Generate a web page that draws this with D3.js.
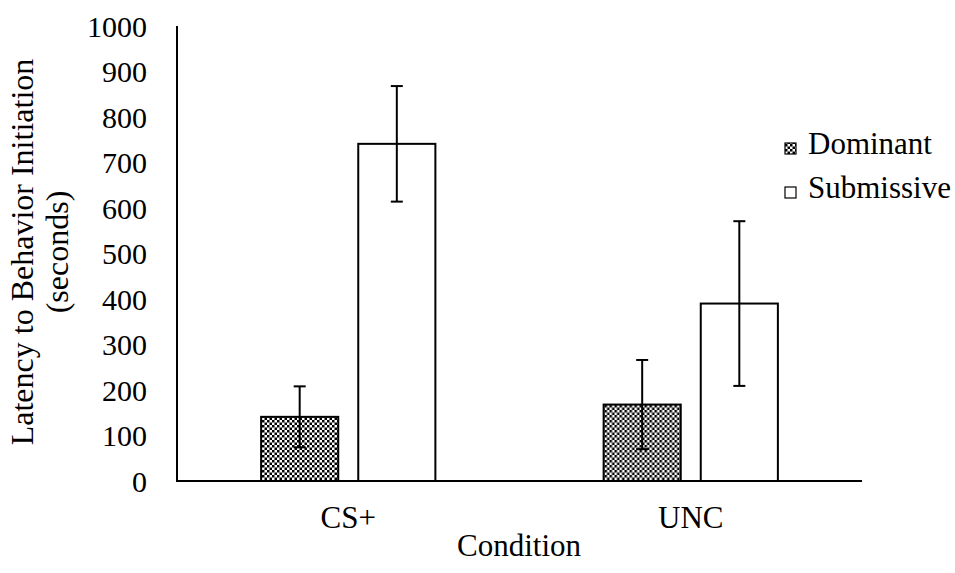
<!DOCTYPE html>
<html>
<head>
<meta charset="utf-8">
<script src="https://cdn.jsdelivr.net/npm/d3@7"></script>
<style>
	body { margin: 0; background: #fff; }
	text { font-family: "Liberation Serif", "Times New Roman", serif; fill: #000; }
</style>
</head>
<body>
<svg id="chart" width="955" height="573"></svg>
<script>

var categories = ['CS+', 'UNC']
var series = ['Dominant', 'Submissive']
var means = {
	'Dominant': [141, 168],
	'Submissive': [741, 390]
}
var errors = {
	'Dominant': [67, 98],
	'Submissive': [127, 181]
}
var yTicks = [0, 100, 200, 300, 400, 500, 600, 700, 800, 900, 1000]

var w = 955
var h = 573
var fs = 31

var svg = d3.select('#chart')

// checkered fill like the excel pattern
var defs = svg.append('defs')
var pat = defs.append('pattern')
	.attr('id', 'checks')
	.attr('width', 5)
	.attr('height', 5)
	.attr('patternUnits', 'userSpaceOnUse')
pat.append('rect').attr('width', 5).attr('height', 5).attr('fill', '#fff')
pat.append('rect').attr('width', 2.5).attr('height', 2.5).attr('fill', '#000')
pat.append('rect').attr('x', 2.5).attr('y', 2.5).attr('width', 2.5).attr('height', 2.5).attr('fill', '#000')

var fills = { 'Dominant': 'url(#checks)', 'Submissive': '#fff' }

var x0 = d3.scaleBand()
	.domain(categories)
	.range([177, 862])

var x1 = d3.scaleBand()
	.domain(series)
	.range([0, x0.bandwidth()])
	.paddingInner(0.206)
	.paddingOuter(0.866)

var y = d3.scaleLinear()
	.domain([0, 1000])
	.range([481, 26])

// y tick labels
svg.append('g')
	.selectAll('text')
	.data(yTicks)
	.enter().append('text')
	.attr('x', 147)
	.attr('y', d => y(d))
	.attr('dy', '0.35em')
	.attr('text-anchor', 'end')
	.attr('font-size', 30)
	.text(d => d)

// bars
var groups = svg.selectAll('.cat')
	.data(categories)
	.enter().append('g')
	.attr('class', 'cat')
	.attr('transform', d => 'translate(' + x0(d) + ',0)')

series.forEach(function(s) {
	groups.append('rect')
		.attr('x', x1(s))
		.attr('y', (d, i) => y(means[s][i]))
		.attr('width', x1.bandwidth())
		.attr('height', (d, i) => y(0) - y(means[s][i]))
		.attr('fill', fills[s])
		.attr('stroke', '#000')
		.attr('stroke-width', 2)
})

// error bars
series.forEach(function(s) {
	var cx = x1(s) + x1.bandwidth() / 2
	groups.append('line')
		.attr('x1', cx).attr('x2', cx)
		.attr('y1', (d, i) => y(means[s][i] - errors[s][i]))
		.attr('y2', (d, i) => y(means[s][i] + errors[s][i]))
		.attr('stroke', '#000')
		.attr('stroke-width', 2)
	groups.append('line')
		.attr('x1', cx - 6).attr('x2', cx + 6)
		.attr('y1', (d, i) => y(means[s][i] + errors[s][i]))
		.attr('y2', (d, i) => y(means[s][i] + errors[s][i]))
		.attr('stroke', '#000')
		.attr('stroke-width', 2)
	groups.append('line')
		.attr('x1', cx - 6).attr('x2', cx + 6)
		.attr('y1', (d, i) => y(means[s][i] - errors[s][i]))
		.attr('y2', (d, i) => y(means[s][i] - errors[s][i]))
		.attr('stroke', '#000')
		.attr('stroke-width', 2)
})

// axes lines
svg.append('line')
	.attr('x1', 177).attr('x2', 177)
	.attr('y1', y(1000)).attr('y2', y(0))
	.attr('stroke', '#000')
	.attr('stroke-width', 2)
svg.append('line')
	.attr('x1', 176).attr('x2', 862)
	.attr('y1', y(0)).attr('y2', y(0))
	.attr('stroke', '#000')
	.attr('stroke-width', 2)

// category labels
svg.append('g')
	.selectAll('text')
	.data(categories)
	.enter().append('text')
	.attr('x', d => x0(d) + x0.bandwidth() / 2)
	.attr('y', 528)
	.attr('text-anchor', 'middle')
	.attr('font-size', fs)
	.text(d => d)

svg.append('text')
	.attr('x', 519)
	.attr('y', 556)
	.attr('text-anchor', 'middle')
	.attr('font-size', fs)
	.text('Condition')

// y title, two lines
var yt = svg.append('text')
	.attr('transform', 'translate(0,252) rotate(-90)')
	.attr('text-anchor', 'middle')
	.attr('font-size', 32)
yt.append('tspan').attr('x', 0).attr('y', 33).text('Latency to Behavior Initiation')
yt.append('tspan').attr('x', 0).attr('y', 68).text('(seconds)')

// legend
var legend = svg.selectAll('.legend')
	.data(series)
	.enter().append('g')
	.attr('class', 'legend')
	.attr('transform', (d, i) => 'translate(785,' + (154 + i * 44) + ')')

legend.append('rect')
	.attr('x', 0)
	.attr('y', -11)
	.attr('width', 11)
	.attr('height', 11)
	.attr('fill', d => fills[d])
	.attr('stroke', '#000')
	.attr('stroke-width', 1.2)

legend.append('text')
	.attr('x', 23)
	.attr('y', 0)
	.attr('font-size', fs)
	.text(d => d)

</script>
</body>
</html>
